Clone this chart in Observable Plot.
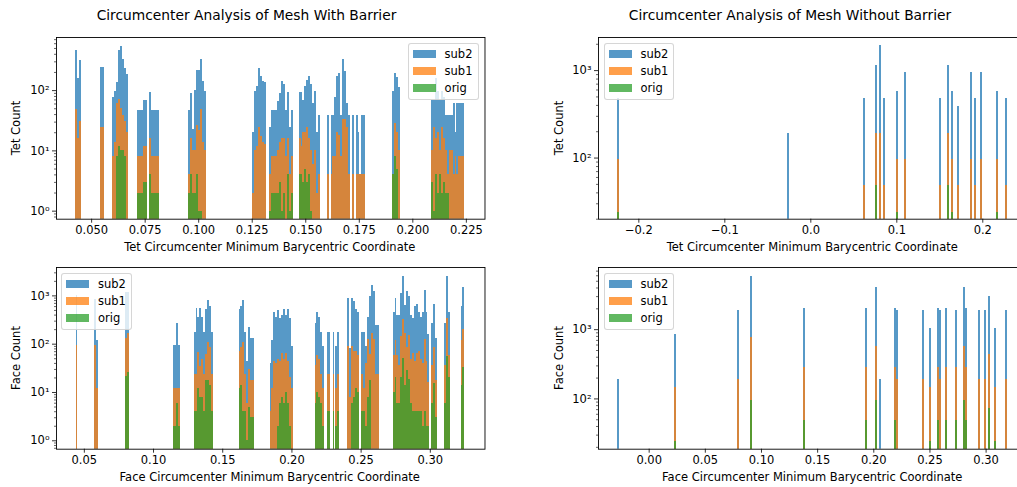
<!DOCTYPE html>
<html><head><meta charset="utf-8">
<script src="https://cdn.jsdelivr.net/npm/d3@7"></script>
<script src="https://cdn.jsdelivr.net/npm/@observablehq/plot@0.6"></script>
<style>
body{margin:0;background:#fff;}
#fig{position:relative;width:1017px;height:487px;overflow:hidden;background:#fff;font-family:"DejaVu Sans",sans-serif;color:#000;}
.panel{position:absolute;}
.title{position:absolute;font-size:13.8px;white-space:nowrap;transform:translate(-50%,-50%);}
.xlabel{position:absolute;font-size:11.5px;white-space:nowrap;transform:translate(-50%,-50%);}
.ylabel{position:absolute;font-size:11.5px;white-space:nowrap;transform:translate(-50%,-50%) rotate(-90deg);}
.legend{position:absolute;background:rgba(255,255,255,0.8);border:1px solid rgba(204,204,204,0.8);border-radius:3px;padding:2px 5px 3px 4px;font-size:11.5px;z-index:2;}
.legend .row{display:flex;align-items:center;height:16.8px;}
.legend .sw{width:23px;height:8px;margin-right:9px;opacity:0.75;}
</style>
</head><body><div id="fig"></div><script>
// ---------- data: Tet, with barrier (bin left edges) ----------
const tetBarX = [0.0427,0.0436,0.0445, 0.0543,0.0552,
 0.0599,0.0608,0.0617,0.0626,0.0635,0.0644,0.0653,0.0662,
 0.0716,0.0725,0.0734,0.0743,0.0752,0.0761,0.0770,0.0779,0.0788,0.0797,0.0806,
 0.0954,0.0963,0.0972,0.0981,0.0990,0.0999,0.1008,0.1017,0.1026,
 0.1253,0.1262,0.1271,0.1280,0.1289,0.1298,0.1307,
 0.1333,0.1342,0.1351,0.1360,0.1369,0.1378,0.1387,0.1396,0.1405,0.1414,0.1423,0.1432,
 0.1469,0.1478,0.1487,0.1496,0.1505,0.1514,0.1523,0.1532,0.1541,0.1550,0.1559,
 0.1600,0.1609,0.1618,0.1627,0.1636,0.1645,0.1654,0.1663,0.1672,0.1681,0.1690,0.1699,0.1708,0.1717,0.1726,0.1735,0.1744,0.1753,0.1762,0.1771,
 0.1907,0.1916,0.1925,0.1934,
 0.2089,0.2098,0.2107,0.2116,0.2125,0.2134,0.2143,0.2152,0.2161,0.2170,0.2179,0.2188,0.2197,0.2206,0.2215,0.2224,0.2233];
const tetBarSub2 = [470,160,320, 240,240,
 78,98,138,468,545,331,230,187,
 47,47,47,69,69,0,94,47,47,47,47,
 47,90,23,100,212,216,330,140,98,
 20,98,118,236,170,140,138,
 24,47,47,47,66,90,143,128,47,94,24,47,
 94,94,69,118,148,173,128,60,98,20,39,
 39,0,39,39,77,173,194,39,331,205,60,39,0,39,0,39,20,4,39,39,
 98,194,167,114,
 69,69,160,98,69,98,77,39,39,39,39,60,20,60,60,60,60];
const tetBarSub1 = [48,16,31, 24,24,
 8,14,61,72,50,38,31,20,
 8,8,8,12,12,0,16,8,8,8,8,
 4,16,10,10,26,22,48,14,10,
 2,10,12,24,17,14,13,
 4,8,8,8,10,14,16,16,8,16,4,8,
 16,12,20,20,24,16,10,6,10,2,4,
 4,0,4,8,8,20,18,8,33,33,24,4,0,4,0,4,4,4,4,4,
 4,29,20,10,
 10,24,16,20,10,24,16,10,4,10,10,4,8,4,8,8,8];
const tetBarOrig = [0,0,0, 0,0,
 0,0,8,12,10,10,8,0,
 2,2,2,3,3,0,4,2,2,2,2,
 2,4,2,2,4,1,1,0,0,
 0,0,0,0,0,0,0,
 1,2,2,2,2,3,1,2,0,4,1,2,
 4,4,3,5,3,4,1,0,0,0,0,
 0,0,0,0,0,0,0,0,0,0,0,0,0,0,0,0,0,0,0,0,
 4,8,5,0,
 3,1,4,2,4,2,3,2,2,0,0,0,0,0,0,0,0];

// ---------- data: Tet, without barrier (bin centres) ----------
const tetNoX = [-0.2233,-0.0260,0.0626,0.0760,0.0807,0.0857,0.1005,0.1098,0.1508,0.1598,0.1644,0.1714,0.1865,0.1915,0.1981,0.2171,0.2276];
const tetNoSub2 = [480,192,480,1152,1920,480,576,960,480,1152,576,384,960,480,960,576,480];
const tetNoSub1 = [96,0,48,192,192,48,96,96,48,192,96,48,96,48,96,96,48];
const tetNoOrig = [24,0,0,48,0,0,24,0,0,48,24,0,0,0,0,24,0];

// ---------- data: Face, with barrier (bin left edges) ----------
const faceBarX = [0.0440,0.0577,0.0591,0.0801,0.0815,
 0.1141,0.1155,0.1169,0.1183,
 0.1293,0.1307,0.1321,0.1335,0.1349,0.1363,0.1377,0.1391,0.1405,0.1419,
 0.1618,0.1632,0.1646,0.1660,0.1674,0.1688,0.1702,0.1716,
 0.1842,0.1856,0.1870,0.1884,0.1898,0.1912,0.1926,0.1940,0.1954,0.1968,0.1982,0.1996,
 0.2167,0.2181,0.2195,0.2209,0.2223,0.2254,0.2268,0.2297,0.2316,0.2330,
 0.2405,0.2419,0.2433,0.2447,0.2461,0.2475,
 0.2506,0.2520,0.2534,0.2548,0.2562,0.2576,0.2590,0.2604,0.2618,
 0.2731,0.2745,0.2759,0.2773,0.2787,0.2801,0.2815,0.2829,0.2843,0.2857,0.2871,0.2885,0.2899,0.2913,0.2927,0.2941,0.2955,0.2969,0.2983,0.2997,0.3011,0.3025,0.3039,
 0.3106,0.3120,0.3134,
 0.3222,0.3236];
const faceBarSub2 = [1000,850,121,1200,1200,
 93,93,268,93,
 175,550,350,550,363,178,530,815,610,178,
 530,610,815,178,44,225,134,134,
 40,121,460,363,510,347,400,530,400,530,347,91,
 272,460,363,178,91,178,178,178,91,178,
 900,83,870,780,530,460,
 178,178,91,363,985,1660,1260,248,248,
 460,900,400,400,1140,2560,640,1260,985,400,347,590,675,460,363,460,1310,460,162,0,272,675,134,
 272,2560,460,
 610,1510];
const faceBarSub1 = [96,96,12,132,166,
 12,12,12,12,
 24,24,67,34,49,24,60,110,87,24,
 72,87,110,24,6,30,18,18,
 4,12,44,39,49,44,65,49,65,44,20,12,
 37,59,49,24,12,24,24,24,12,24,
 91,8,91,72,72,59,
 24,12,39,127,60,170,127,24,24,
 59,121,59,37,146,330,170,87,150,49,65,44,65,72,49,39,127,44,16,0,37,87,18,
 37,347,59,
 121,205];
const faceBarOrig = [0,0,0,21,26,
 2,2,6,2,
 4,4,12,8,8,4,18,18,14,4,
 12,14,4,4,1,5,3,3,
 0,0,0,0,2,6,8,6,10,6,2,0,
 6,10,8,6,2,4,4,4,2,4,
 0,0,6,8,12,10,
 4,4,2,8,18,0,0,0,0,
 10,20,6,6,20,51,14,28,19,6,4,4,4,4,4,2,4,2,2,0,6,15,3,
 6,56,20,
 14,33];

// ---------- data: Face, without barrier (bin centres) ----------
const faceNoX = [-0.0271,0.0232,0.0793,0.0908,0.1380,0.1932,0.2021,0.2057,0.2193,0.2208,0.2442,0.2505,0.2576,0.2594,0.2647,0.2736,0.2808,0.2823,0.2941,0.2995,0.3028,0.3084,0.3182];
const faceNoSub2 = [192,864,1920,5900,2040,2040,4060,192,2040,1920,1920,1030,2040,1920,2040,1920,4060,2040,1920,1920,3030,1030,1920];
const faceNoSub1 = [0,144,192,768,288,288,576,0,288,192,192,144,288,192,288,288,576,288,192,192,432,144,192];
const faceNoOrig = [0,24,0,96,48,48,96,0,48,0,0,24,48,0,48,48,96,48,0,0,72,24,0];

// ---------- tick labels ----------
const tetBarTicks = [0.050,0.075,0.100,0.125,0.150,0.175,0.200,0.225];
const tetNoTicks = [-0.2,-0.1,0.0,0.1,0.2];
const faceBarTicks = [0.05,0.10,0.15,0.20,0.25,0.30];
const faceNoTicks = [0.00,0.05,0.10,0.15,0.20,0.25,0.30];
const seriesNames = ["sub2","sub1","orig"];
const seriesColors = ["#1f77b4","#ff7f0e","#2ca02c"];

const fig = document.getElementById("fig");
const supMap = {"-":"⁻","0":"⁰","1":"¹","2":"²","3":"³","4":"⁴","5":"⁵"};
const yFmt = d => "10" + String(Math.round(Math.log10(d))).split("").map(c => supMap[c]).join("");

function minorTicks(dom) {
  const out = [];
  for (let e = -2; e <= 5; e++) for (let m = 2; m <= 9; m++) {
    const v = m * Math.pow(10, e);
    if (v >= dom[0] && v <= dom[1]) out.push(v);
  }
  return out;
}
function majorTicks(dom) {
  const out = [];
  for (let e = -2; e <= 5; e++) { const v = Math.pow(10, e); if (v >= dom[0] && v <= dom[1]) out.push(v); }
  return out;
}

function panel(o) {
  const mL = 60, mR = 10, mT = 10, mB = 30;
  const W = o.right - o.left, H = o.bottom - o.top;
  const lists = [o.s2, o.s1, o.og];
  const marks = [];
  lists.forEach((counts, i) => {
    const rows = [];
    counts.forEach((c, j) => {
      if (c > 0) {
        const x = o.xs[j];
        const x1 = o.align === "left" ? x : x - o.bw / 2;
        rows.push({x1, x2: x1 + o.bw, y: c});
      }
    });
    marks.push(Plot.rect(rows, {x1: "x1", x2: "x2", y1: () => o.yDomain[0] / 100, y2: "y",
      fill: seriesColors[i], fillOpacity: 0.75, inset: 0, clip: true, shapeRendering: "crispEdges"}));
  });
  marks.push(Plot.frame({stroke: "#000", strokeWidth: 0.9}));
  marks.push(Plot.axisX({ticks: o.xTicks, tickFormat: o.xFmt, tickSize: 4, tickPadding: 3, label: null, strokeWidth: 0.8}));
  marks.push(Plot.axisY({ticks: majorTicks(o.yDomain), tickFormat: yFmt, tickSize: 4, tickPadding: 3, label: null, strokeWidth: 0.8}));
  marks.push(Plot.axisY({ticks: minorTicks(o.yDomain), tickFormat: () => "", tickSize: 2, label: null, strokeWidth: 0.6}));
  const chart = Plot.plot({
    width: W + mL + mR, height: H + mT + mB,
    marginLeft: mL, marginRight: mR, marginTop: mT, marginBottom: mB,
    x: {domain: o.xDomain},
    y: {type: "log", domain: o.yDomain},
    style: {fontFamily: "DejaVu Sans", fontSize: "11.5px", color: "#000", background: "transparent"},
    marks
  });
  chart.classList.add("panel");
  chart.style.left = (o.left - mL) + "px";
  chart.style.top = (o.top - mT) + "px";
  fig.appendChild(chart);

  const xl = document.createElement("div");
  xl.className = "xlabel"; xl.textContent = o.xLabel;
  xl.style.left = ((o.left + o.right) / 2) + "px"; xl.style.top = (o.bottom + 28) + "px";
  fig.appendChild(xl);
  const yl = document.createElement("div");
  yl.className = "ylabel"; yl.textContent = o.yLabel;
  yl.style.left = (o.left - 39.5) + "px"; yl.style.top = ((o.top + o.bottom) / 2) + "px";
  fig.appendChild(yl);

  const lg = document.createElement("div");
  lg.className = "legend";
  seriesNames.forEach((n, i) => {
    const r = document.createElement("div"); r.className = "row";
    const s = document.createElement("div"); s.className = "sw"; s.style.background = seriesColors[i];
    const t = document.createElement("span"); t.textContent = n;
    r.appendChild(s); r.appendChild(t); lg.appendChild(r);
  });
  lg.style.top = (o.top + 5.5) + "px";
  if (o.legend === "right") lg.style.right = (1017 - (o.right - 5.5)) + "px";
  else lg.style.left = (o.left + 5.5) + "px";
  fig.appendChild(lg);
}

function addTitle(text, cx) {
  const t = document.createElement("div");
  t.className = "title"; t.textContent = text;
  t.style.left = cx + "px"; t.style.top = "14.5px";
  fig.appendChild(t);
}

const colL = {left: 55.5, right: 484}, colR = {left: 598, right: 1026.5};
const rowT = {top: 37.3, bottom: 219}, rowB = {top: 267.3, bottom: 449};

addTitle("Circumcenter Analysis of Mesh With Barrier", 246.5);
addTitle("Circumcenter Analysis of Mesh Without Barrier", 790);

panel({...colL, ...rowT, xs: tetBarX, s2: tetBarSub2, s1: tetBarSub1, og: tetBarOrig, bw: 0.00091, align: "left",
  xDomain: [0.0336, 0.2337], yDomain: [0.736, 760], xTicks: tetBarTicks, xFmt: d3.format(".3f"),
  xLabel: "Tet Circumcenter Minimum Barycentric Coordinate", yLabel: "Tet Count", legend: "right"});
panel({...colR, ...rowT, xs: tetNoX, s2: tetNoSub2, s1: tetNoSub1, og: tetNoOrig, bw: 0.00225, align: "center",
  xDomain: [-0.2469, 0.2514], yDomain: [20, 2390], xTicks: tetNoTicks, xFmt: d3.format(".1f"),
  xLabel: "Tet Circumcenter Minimum Barycentric Coordinate", yLabel: "Tet Count", legend: "left"});
panel({...colL, ...rowB, xs: faceBarX, s2: faceBarSub2, s1: faceBarSub1, og: faceBarOrig, bw: 0.0014, align: "left",
  xDomain: [0.0299, 0.3395], yDomain: [0.67, 3870], xTicks: faceBarTicks, xFmt: d3.format(".2f"),
  xLabel: "Face Circumcenter Minimum Barycentric Coordinate", yLabel: "Face Count", legend: "left"});
panel({...colR, ...rowB, xs: faceNoX, s2: faceNoSub2, s1: faceNoSub1, og: faceNoOrig, bw: 0.00173, align: "center",
  xDomain: [-0.0451, 0.3364], yDomain: [18.8, 7900], xTicks: faceNoTicks, xFmt: d3.format(".2f"),
  xLabel: "Face Circumcenter Minimum Barycentric Coordinate", yLabel: "Face Count", legend: "left"});
</script></body></html>
